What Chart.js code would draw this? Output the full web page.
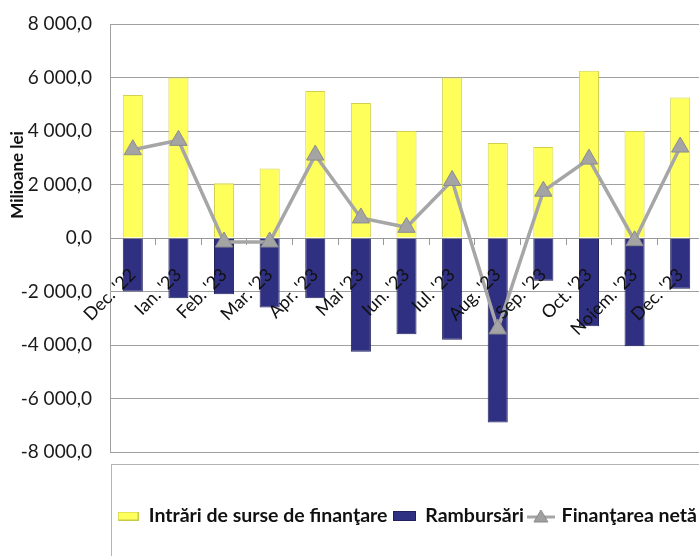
<!DOCTYPE html>
<html>
<head>
<meta charset="utf-8">
<script src="https://cdn.jsdelivr.net/npm/chart.js@4"></script>
<style>
  html, body { margin: 0; padding: 0; background: #fff; overflow: hidden; }
  #wrap { width: 699px; height: 556px; overflow: hidden; }
</style>
</head>
<body>
<div id="wrap"><canvas id="chart" width="716" height="556"></canvas></div>
<script>
// values (milioane lei)
const months = ["Dec. '22", "Ian. '23", "Feb. '23", "Mar. '23", "Apr. '23", "Mai '23", "Iun. '23",
  "Iul. '23", "Aug. '23", "Sep. '23", "Oct. '23", "Noiem. '23", "Dec. '23"];
const inflows = [5350, 6000, 2050, 2600, 5500, 5050, 4000, 6000, 3550, 3400, 6250, 4000, 5250];
const repayments = [-2000, -2250, -2100, -2600, -2250, -4250, -3600, -3800, -6900, -1600, -3300, -4050, -1900];
const netFinancing = [3300, 3650, -150, -150, 3100, 750, 400, 2150, -3400, 1750, 2950, -100, 3400];
const seriesNames = ['Intrări de surse de finanţare', 'Rambursări', 'Finanţarea netă'];

const yellow = '#ffff5c';
const navy = '#2f3082';
const grey = '#a6a6a6';

const fmt = v => {
  const s = Math.abs(v).toFixed(1).split('.');
  return (v < 0 ? '-' : '') + s[0].replace(/\B(?=(\d{3})+(?!\d))/g, ' ') + ',' + s[1];
};

// little legend markers, drawn like the excel ones
function rectMarker(w, h, fill, edge) {
  const c = document.createElement('canvas');
  c.width = w; c.height = h;
  const g = c.getContext('2d');
  g.fillStyle = fill;
  g.fillRect(0, 0, w, h);
  g.strokeStyle = edge;
  g.strokeRect(0.5, 0.5, w - 1, h - 1);
  return c;
}
function lineMarker() {
  const c = document.createElement('canvas');
  c.width = 28; c.height = 14;
  const g = c.getContext('2d');
  g.strokeStyle = grey;
  g.lineWidth = 3;
  g.beginPath(); g.moveTo(0, 8); g.lineTo(28, 8); g.stroke();
  g.fillStyle = '#a0a0a0';
  g.strokeStyle = '#8a8a8a';
  g.lineWidth = 1;
  g.beginPath(); g.moveTo(14, 1); g.lineTo(21, 13); g.lineTo(7, 13); g.closePath();
  g.fill(); g.stroke();
  return c;
}
const markers = [rectMarker(21, 9, yellow, '#c9c94a'), rectMarker(23, 10, navy, '#20205a'), lineMarker()];

const extras = {
  id: 'extras',
  beforeDraw(chart) {
    const ctx = chart.ctx;
    ctx.save();
    ctx.strokeStyle = '#b4b4b4';
    ctx.lineWidth = 1;
    ctx.strokeRect(111.5, 464.5, 640, 140);
    ctx.restore();
  },
  afterDraw(chart) {
    const ctx = chart.ctx;
    ctx.save();
    ctx.translate(18, 175);
    ctx.rotate(-Math.PI / 2);
    ctx.font = 'bold 17px Lato';
    ctx.fillStyle = '#111';
    ctx.textAlign = 'center';
    ctx.textBaseline = 'middle';
    ctx.fillText('Milioane lei', 0, 0);
    ctx.restore();
  }
};

new Chart(document.getElementById('chart'), {
  type: 'bar',
  data: {
    labels: months,
    datasets: [
      {
        label: seriesNames[2],
        type: 'line',
        data: netFinancing,
        borderColor: grey,
        borderWidth: 3.5,
        pointStyle: 'triangle',
        pointRadius: 10,
        pointBackgroundColor: '#a4a4a4',
        pointBorderColor: '#8c8c8c',
        pointBorderWidth: 1,
        order: 0,
      },
      {
        label: seriesNames[0],
        data: inflows,
        backgroundColor: yellow,
        borderColor: '#d2d250',
        borderWidth: 1,
        order: 1,
      },
      {
        label: seriesNames[1],
        data: repayments,
        backgroundColor: navy,
        borderColor: '#23235f',
        borderWidth: 1,
        order: 1,
      },
    ],
  },
  options: {
    responsive: false,
    animation: false,
    layout: { padding: { left: 0, right: 13, top: 24, bottom: 20.25 } },
    datasets: { bar: { categoryPercentage: 1, barPercentage: 0.44 } },
    scales: {
      x: {
        stacked: true,
        position: { y: 0 },
        grid: { drawOnChartArea: false, offset: true, tickLength: 6, color: '#999' },
        border: { color: '#999' },
        ticks: {
          z: 1,
          autoSkip: false, minRotation: 45, maxRotation: 45, padding: 20,
          color: '#111', font: { family: 'Lato', size: 18 },
        },
      },
      y: {
        min: -8000,
        max: 8000,
        afterFit(scale) { scale.width = 110; },
        grid: { color: '#a0a0a0', tickLength: 18, tickColor: 'rgba(0,0,0,0)' },
        border: { color: '#a0a0a0' },
        ticks: {
          stepSize: 2000, padding: 0, color: '#1a1a1a',
          font: { family: 'Lato', size: 19 },
          callback: v => fmt(v),
        },
      },
    },
    plugins: {
      tooltip: { enabled: false },
      legend: {
        position: 'bottom',
        align: 'end',
        title: { display: true, text: ' ', font: { size: 10 }, padding: { top: 36.25, bottom: 0 } },
        labels: {
          usePointStyle: true,
          pointStyleWidth: 22,
          padding: 6,
          color: '#111',
          font: { family: 'Lato', size: 19.5, weight: 'bold' },
          generateLabels(chart) {
            const items = Chart.defaults.plugins.legend.labels.generateLabels(chart);
            items.forEach(it => { it.pointStyle = markers[it.datasetIndex === 0 ? 2 : it.datasetIndex - 1]; });
            return items.sort((a, b) => ((a.datasetIndex + 2) % 3) - ((b.datasetIndex + 2) % 3));
          },
        },
      },
    },
  },
  plugins: [extras],
});
</script>
</body>
</html>
